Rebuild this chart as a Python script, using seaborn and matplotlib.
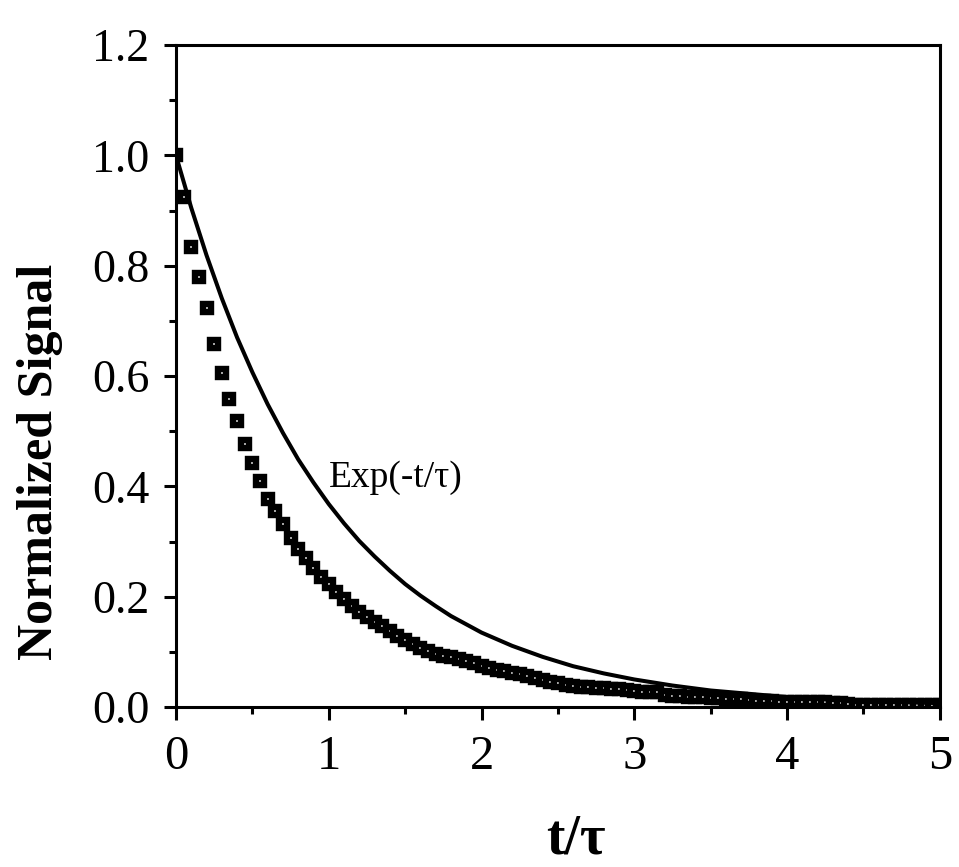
import matplotlib
matplotlib.use("Agg")
import matplotlib.pyplot as plt
from matplotlib.ticker import MultipleLocator, FormatStrFormatter
import seaborn as sns
import pandas as pd

# ---- data ----
t_points = [
    0.00, 0.05, 0.10, 0.15, 0.20, 0.25, 0.30, 0.35, 0.40, 0.45,
    0.50, 0.55, 0.60, 0.65, 0.70, 0.75, 0.80, 0.85, 0.90, 0.95,
    1.00, 1.05, 1.10, 1.15, 1.20, 1.25, 1.30, 1.35, 1.40, 1.45,
    1.50, 1.55, 1.60, 1.65, 1.70, 1.75, 1.80, 1.85, 1.90, 1.95,
    2.00, 2.05, 2.10, 2.15, 2.20, 2.25, 2.30, 2.35, 2.40, 2.45,
    2.50, 2.55, 2.60, 2.65, 2.70, 2.75, 2.80, 2.85, 2.90, 2.95,
    3.00, 3.05, 3.10, 3.15, 3.20, 3.25, 3.30, 3.35, 3.40, 3.45,
    3.50, 3.55, 3.60, 3.65, 3.70, 3.75, 3.80, 3.85, 3.90, 3.95,
    4.00, 4.05, 4.10, 4.15, 4.20, 4.25, 4.30, 4.35, 4.40, 4.45,
    4.50, 4.55, 4.60, 4.65, 4.70, 4.75, 4.80, 4.85, 4.90, 4.95,
    5.00,
]
signal_points = [
    1.000, 0.925, 0.834, 0.780, 0.723, 0.659, 0.606, 0.558, 0.519, 0.477,
    0.443, 0.410, 0.378, 0.356, 0.331, 0.307, 0.286, 0.270, 0.252, 0.236,
    0.223, 0.208, 0.195, 0.183, 0.173, 0.164, 0.155, 0.147, 0.137, 0.129,
    0.121, 0.114, 0.107, 0.102, 0.097, 0.093, 0.090, 0.087, 0.083, 0.079,
    0.074, 0.071, 0.068, 0.065, 0.062, 0.059, 0.056, 0.052, 0.049, 0.046,
    0.043, 0.040, 0.038, 0.037, 0.036, 0.034, 0.034, 0.033, 0.032, 0.031,
    0.029, 0.028, 0.028, 0.027, 0.021, 0.020, 0.020, 0.019, 0.019, 0.018,
    0.016, 0.016, 0.015, 0.015, 0.014, 0.012, 0.011, 0.011, 0.011, 0.010,
    0.010, 0.010, 0.010, 0.009, 0.009, 0.009, 0.008, 0.007, 0.005, 0.004,
    0.004, 0.004, 0.004, 0.004, 0.004, 0.004, 0.004, 0.004, 0.004, 0.004,
    0.004,
]

t_curve = [
    0.0, 0.1, 0.2, 0.3, 0.4, 0.5, 0.6, 0.7, 0.8, 0.9,
    1.0, 1.1, 1.2, 1.3, 1.4, 1.5, 1.6, 1.7, 1.8, 1.9,
    2.0, 2.2, 2.4, 2.6, 2.8, 3.0, 3.25, 3.5, 3.75, 4.0,
    4.25, 4.5, 4.75, 5.0,
]
signal_curve = [
    1.000, 0.905, 0.819, 0.741, 0.670, 0.607, 0.549, 0.497, 0.449, 0.407,
    0.368, 0.333, 0.301, 0.273, 0.247, 0.223, 0.202, 0.183, 0.165, 0.150,
    0.135, 0.111, 0.091, 0.074, 0.061, 0.050, 0.039, 0.030, 0.024, 0.018,
    0.014, 0.011, 0.009, 0.007,
]

x_ticks = [0, 1, 2, 3, 4, 5]
y_ticks = [0.0, 0.2, 0.4, 0.6, 0.8, 1.0, 1.2]
curve_label = "Exp(-t/\u03c4)"
x_label = "t/\u03c4"
y_label = "Normalized Signal"

df_pts = pd.DataFrame({"t": t_points, "signal": signal_points})
df_curve = pd.DataFrame({"t": t_curve, "signal": signal_curve})

# ---- styling ----
sns.set_theme(style="white")
plt.rcParams["font.family"] = ["Liberation Serif", "DejaVu Serif"]
plt.rcParams["text.color"] = "black"
plt.rcParams["axes.labelcolor"] = "black"

fig = plt.figure(figsize=(9.59, 8.67), dpi=100)
ax = fig.add_axes([0.1835, 0.1845, 0.7965, 0.7635])

sns.lineplot(data=df_pts, x="t", y="signal", ax=ax, linestyle="",
             marker="s", markersize=5.7, markeredgewidth=4.6,
             markerfacecolor="white", markeredgecolor="black",
             color="black", zorder=2)
sns.lineplot(data=df_curve, x="t", y="signal", ax=ax, color="black",
             linewidth=2.9, zorder=3)

ax.set_xlim(0, 5)
ax.set_ylim(0, 1.2)
ax.set_xticks(x_ticks)
ax.set_yticks(y_ticks)
ax.yaxis.set_major_formatter(FormatStrFormatter("%.1f"))
ax.xaxis.set_minor_locator(MultipleLocator(0.5))
ax.yaxis.set_minor_locator(MultipleLocator(0.1))

for side in ["left", "right", "top", "bottom"]:
    ax.spines[side].set_visible(True)
    ax.spines[side].set_color("black")
    ax.spines[side].set_linewidth(2.2)

ax.tick_params(axis="both", which="major", direction="out", length=9,
               width=2.2, color="black", labelcolor="black",
               bottom=True, left=True, top=False, right=False)
ax.tick_params(axis="both", which="minor", direction="out", length=5,
               width=2.2, color="black", bottom=True, left=True,
               top=False, right=False)
ax.tick_params(axis="x", which="major", labelsize=35, pad=11)
ax.tick_params(axis="y", which="major", labelsize=33, pad=10)

ax.set_xlabel(x_label, fontsize=40, fontweight="bold", color="black")
ax.set_ylabel(y_label, fontsize=36, fontweight="bold", color="black")
ax.xaxis.set_label_coords(0.523, -0.2)
ax.yaxis.set_label_coords(-0.178, 0.37)
ax.xaxis.label.set_verticalalignment("center")
ax.yaxis.label.set_verticalalignment("center")

ax.text(1.0, 0.40, curve_label, fontsize=27, ha="left", va="baseline",
        color="black")

ax.grid(False)
fig.savefig("out.png", dpi=100, facecolor="white")
